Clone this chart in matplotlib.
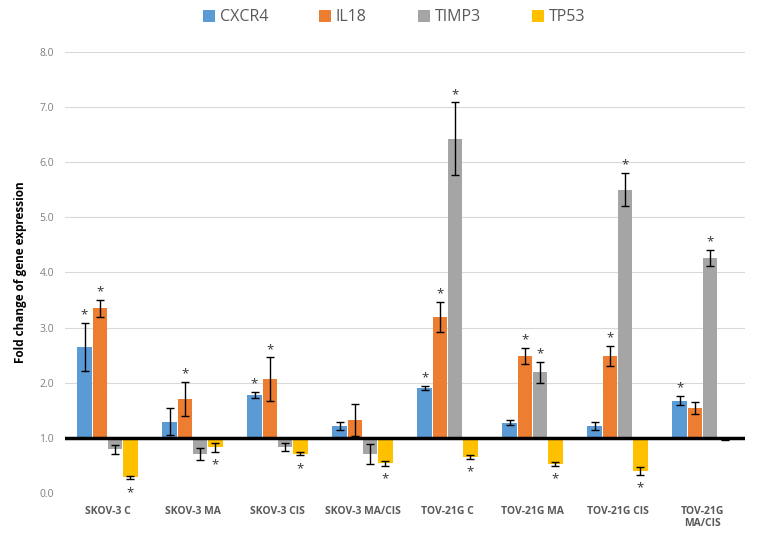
import matplotlib.pyplot as plt
import numpy as np

groups = ["SKOV-3 C", "SKOV-3 MA", "SKOV-3 CIS", "SKOV-3 MA/CIS",
          "TOV-21G C", "TOV-21G MA", "TOV-21G CIS", "TOV-21G\nMA/CIS"]
genes = ["CXCR4", "IL18", "TIMP3", "TP53"]

cxcr4 = [2.65, 1.30, 1.78, 1.22, 1.91, 1.28, 1.22, 1.68]
cxcr4_err = [0.43, 0.24, 0.06, 0.08, 0.04, 0.05, 0.08, 0.08]
cxcr4_sig = [1, 0, 1, 0, 1, 0, 0, 1]

il18 = [3.35, 1.71, 2.07, 1.32, 3.20, 2.49, 2.49, 1.55]
il18_err = [0.15, 0.31, 0.39, 0.29, 0.27, 0.15, 0.18, 0.11]
il18_sig = [1, 1, 1, 0, 1, 1, 1, 0]

timp3 = [0.80, 0.71, 0.84, 0.71, 6.42, 2.19, 5.50, 4.26]
timp3_err = [0.08, 0.11, 0.08, 0.18, 0.66, 0.19, 0.30, 0.14]
timp3_sig = [0, 0, 0, 0, 1, 1, 1, 1]

tp53 = [0.29, 0.83, 0.72, 0.54, 0.66, 0.53, 0.41, 0.97]
tp53_err = [0.03, 0.08, 0.03, 0.04, 0.03, 0.03, 0.07, 0.01]
tp53_sig = [1, 1, 1, 1, 1, 1, 1, 0]

colors = ["#5B9BD5", "#ED7D31", "#A5A5A5", "#FFC000"]

plt.rcParams['font.family'] = ['Open Sans', 'DejaVu Sans']

fig = plt.figure(figsize=(7.59, 5.39), dpi=100)
ax = fig.add_axes([0.0856, 0.0848, 0.896, 0.8193])

x = np.arange(len(groups))
series = [(cxcr4, cxcr4_err, cxcr4_sig), (il18, il18_err, il18_sig),
          (timp3, timp3_err, timp3_sig), (tp53, tp53_err, tp53_sig)]
bar_width = 0.172
offsets = [-0.27, -0.09, 0.09, 0.27]

for i in range(4):
    vals = np.array(series[i][0])
    errs = np.array(series[i][1])
    sig = series[i][2]
    ax.bar(x + offsets[i], vals - 1.0, bar_width, bottom=1.0, color=colors[i],
           label=genes[i], zorder=2)
    ax.errorbar(x + offsets[i], vals, yerr=errs, fmt='none', ecolor='black',
                elinewidth=1, capsize=3, capthick=1, zorder=3)
    # significance marks
    for j in range(len(groups)):
        if sig[j]:
            if vals[j] >= 1.0:
                ypos = vals[j] + errs[j] + 0.03
            else:
                ypos = vals[j] - errs[j] - 0.36
            ax.text(x[j] + offsets[i], ypos, "*", ha='center', va='bottom',
                    fontsize=9.5, color='#333333', zorder=4)

ax.axhline(1.0, color='black', lw=2.5, zorder=5)

ax.set_xlim(-0.5, len(groups) - 0.5)
ax.set_ylim(0, 8)
ax.set_yticks(np.arange(0, 9, 1))
ax.set_yticklabels(["%.1f" % v for v in np.arange(0, 9, 1)])
ax.set_xticks(x)
ax.set_xticklabels(groups, fontweight='bold', fontsize=7.5, color='#595959')
ax.tick_params(axis='y', labelsize=7.5, labelcolor='#7f7f7f', length=0, pad=8)
ax.tick_params(axis='x', length=0, pad=9)
ax.yaxis.grid(True, color='#d9d9d9', lw=0.8, zorder=0)
ax.set_axisbelow(True)
for s in ax.spines.values():
    s.set_visible(False)

ax.set_ylabel("Fold change of gene expression", fontweight='bold', fontsize=8.5,
              labelpad=9)

fig.legend(loc='center', bbox_to_anchor=(0.519, 0.968), ncol=4, frameon=False,
           fontsize=11.5, handlelength=0.75, handleheight=0.75,
           handletextpad=0.3, columnspacing=3.2, labelcolor='#595959')

fig.savefig("out.png", dpi=100)
